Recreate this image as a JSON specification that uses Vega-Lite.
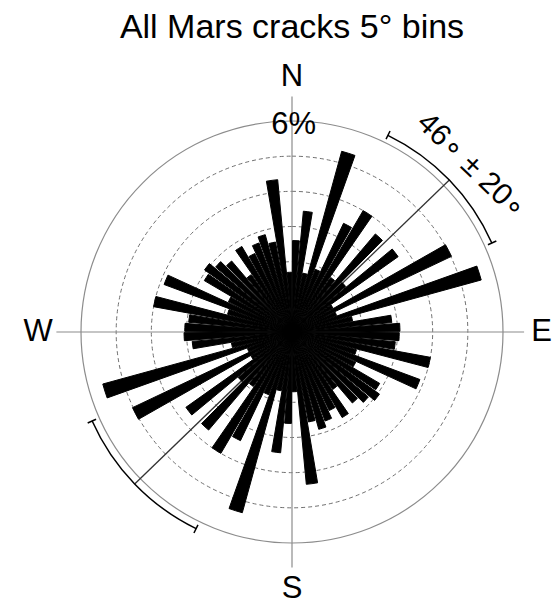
{
  "$schema": "https://vega.github.io/schema/vega-lite/v6.json",
  "width": 422,
  "height": 422,
  "autosize": {"type": "none"},
  "padding": {"left": 81, "top": 121, "right": 50, "bottom": 62},
  "background": "white",
  "config": {"view": {"stroke": null}, "font": "Liberation Sans"},
  "title": {
    "text": "All Mars cracks 5° bins",
    "fontSize": 34,
    "fontWeight": "normal",
    "font": "Liberation Sans",
    "color": "black",
    "anchor": "middle",
    "baseline": "alphabetic",
    "offset": 0,
    "dy": 11
  },
  "datasets": {
    "bins": [
      {"a0": 0, "a1": 5, "pct": 2.6}, {"a0": 5, "a1": 10, "pct": 3.45}, {"a0": 10, "a1": 15, "pct": 1.7},
      {"a0": 15, "a1": 20, "pct": 5.33}, {"a0": 20, "a1": 25, "pct": 1.9}, {"a0": 25, "a1": 30, "pct": 3.42},
      {"a0": 30, "a1": 35, "pct": 4.0}, {"a0": 35, "a1": 40, "pct": 1.9}, {"a0": 40, "a1": 45, "pct": 3.66},
      {"a0": 45, "a1": 50, "pct": 2.0}, {"a0": 50, "a1": 55, "pct": 3.7}, {"a0": 55, "a1": 60, "pct": 1.35},
      {"a0": 60, "a1": 65, "pct": 5.02}, {"a0": 65, "a1": 70, "pct": 1.35}, {"a0": 70, "a1": 75, "pct": 5.58},
      {"a0": 75, "a1": 80, "pct": 1.75}, {"a0": 80, "a1": 85, "pct": 2.85}, {"a0": 85, "a1": 90, "pct": 3.07},
      {"a0": 90, "a1": 95, "pct": 3.05}, {"a0": 95, "a1": 100, "pct": 2.95}, {"a0": 100, "a1": 105, "pct": 4.0},
      {"a0": 105, "a1": 110, "pct": 1.9}, {"a0": 110, "a1": 115, "pct": 3.88}, {"a0": 115, "a1": 120, "pct": 2.0},
      {"a0": 120, "a1": 125, "pct": 2.89}, {"a0": 125, "a1": 130, "pct": 3.05}, {"a0": 130, "a1": 135, "pct": 2.85},
      {"a0": 135, "a1": 140, "pct": 2.65}, {"a0": 140, "a1": 145, "pct": 2.0}, {"a0": 145, "a1": 150, "pct": 2.82},
      {"a0": 150, "a1": 155, "pct": 2.47}, {"a0": 155, "a1": 160, "pct": 2.7}, {"a0": 160, "a1": 165, "pct": 2.87},
      {"a0": 165, "a1": 170, "pct": 2.6}, {"a0": 170, "a1": 175, "pct": 4.35}, {"a0": 175, "a1": 180, "pct": 1.7},
      {"a0": 180, "a1": 185, "pct": 2.6}, {"a0": 185, "a1": 190, "pct": 3.45}, {"a0": 190, "a1": 195, "pct": 1.7},
      {"a0": 195, "a1": 200, "pct": 5.33}, {"a0": 200, "a1": 205, "pct": 1.9}, {"a0": 205, "a1": 210, "pct": 3.42},
      {"a0": 210, "a1": 215, "pct": 4.0}, {"a0": 215, "a1": 220, "pct": 1.9}, {"a0": 220, "a1": 225, "pct": 3.66},
      {"a0": 225, "a1": 230, "pct": 2.0}, {"a0": 230, "a1": 235, "pct": 3.7}, {"a0": 235, "a1": 240, "pct": 1.35},
      {"a0": 240, "a1": 245, "pct": 5.02}, {"a0": 245, "a1": 250, "pct": 1.35}, {"a0": 250, "a1": 255, "pct": 5.58},
      {"a0": 255, "a1": 260, "pct": 1.75}, {"a0": 260, "a1": 265, "pct": 2.85}, {"a0": 265, "a1": 270, "pct": 3.07},
      {"a0": 270, "a1": 275, "pct": 3.05}, {"a0": 275, "a1": 280, "pct": 2.95}, {"a0": 280, "a1": 285, "pct": 4.0},
      {"a0": 285, "a1": 290, "pct": 1.9}, {"a0": 290, "a1": 295, "pct": 3.88}, {"a0": 295, "a1": 300, "pct": 2.0},
      {"a0": 300, "a1": 305, "pct": 2.89}, {"a0": 305, "a1": 310, "pct": 3.05}, {"a0": 310, "a1": 315, "pct": 2.85},
      {"a0": 315, "a1": 320, "pct": 2.65}, {"a0": 320, "a1": 325, "pct": 2.0}, {"a0": 325, "a1": 330, "pct": 2.82},
      {"a0": 330, "a1": 335, "pct": 2.47}, {"a0": 335, "a1": 340, "pct": 2.7}, {"a0": 340, "a1": 345, "pct": 2.87},
      {"a0": 345, "a1": 350, "pct": 2.6}, {"a0": 350, "a1": 355, "pct": 4.35}, {"a0": 355, "a1": 360, "pct": 1.7}
    ],
    "gridRings": [
      {"a0": 0, "a1": 360, "r": 1}, {"a0": 0, "a1": 360, "r": 2}, {"a0": 0, "a1": 360, "r": 3},
      {"a0": 0, "a1": 360, "r": 4}, {"a0": 0, "a1": 360, "r": 5}
    ],
    "outerRing": [{"a0": 0, "a1": 360, "r": 6}],
    "crossLines": [
      {"x": -6.7, "x2": 6.6, "y": 0, "y2": 0},
      {"x": 0, "x2": 0, "y": -6.7, "y2": 6.7}
    ],
    "meanLine": [
      {"x": -4.474, "y": -4.321, "x2": 4.474, "y2": 4.321}
    ],
    "bracketTicks": [
      {"x": 2.674, "y": 5.483, "x2": 2.788, "y2": 5.716},
      {"x": 5.572, "y": 2.481, "x2": 5.81, "y2": 2.587},
      {"x": -2.674, "y": -5.483, "x2": -2.788, "y2": -5.716},
      {"x": -5.572, "y": -2.481, "x2": -5.81, "y2": -2.587}
    ],
    "brackets": [
      {"a0": 26, "a1": 66, "r": 6.22},
      {"a0": 206, "a1": 246, "r": 6.22}
    ],
    "compass": [
      {"t": "N", "x": 0, "y": 7.26},
      {"t": "S", "x": 0, "y": -7.32},
      {"t": "W", "x": -7.22, "y": 0},
      {"t": "E", "x": 7.1, "y": 0},
      {"t": "6%", "x": 0.05, "y": 5.9}
    ],
    "meanLabel": [
      {"t": "46∘ ± 20∘", "x": 5.1, "y": 4.72}
    ]
  },
  "layer": [
    {
      "data": {"name": "gridRings"},
      "mark": {"type": "arc", "filled": false, "stroke": "#707070", "strokeWidth": 1, "strokeDash": [4, 3]},
      "encoding": {
        "theta": {"field": "a0", "type": "quantitative", "stack": null, "scale": {"type": "linear", "domain": [0, 360], "range": [0, 6.283185307179586]}},
        "theta2": {"field": "a1"},
        "radius": {"field": "r", "type": "quantitative", "scale": {"type": "linear", "domain": [0, 6], "range": [0, 211], "zero": true}}
      }
    },
    {
      "data": {"name": "outerRing"},
      "mark": {"type": "arc", "filled": false, "stroke": "#8c8c8c", "strokeWidth": 1.2},
      "encoding": {
        "theta": {"field": "a0", "type": "quantitative", "stack": null, "scale": {"type": "linear", "domain": [0, 360], "range": [0, 6.283185307179586]}},
        "theta2": {"field": "a1"},
        "radius": {"field": "r", "type": "quantitative", "scale": {"type": "linear", "domain": [0, 6], "range": [0, 211], "zero": true}}
      }
    },
    {
      "data": {"name": "crossLines"},
      "mark": {"type": "rule", "stroke": "#8c8c8c", "strokeWidth": 1.2},
      "encoding": {
        "x": {"field": "x", "type": "quantitative", "scale": {"domain": [-6, 6], "nice": false, "zero": false}, "axis": null},
        "x2": {"field": "x2"},
        "y": {"field": "y", "type": "quantitative", "scale": {"domain": [-6, 6], "nice": false, "zero": false}, "axis": null},
        "y2": {"field": "y2"}
      }
    },
    {
      "data": {"name": "meanLine"},
      "mark": {"type": "rule", "stroke": "#333333", "strokeWidth": 1.3},
      "encoding": {
        "x": {"field": "x", "type": "quantitative", "scale": {"domain": [-6, 6], "nice": false, "zero": false}, "axis": null},
        "x2": {"field": "x2"},
        "y": {"field": "y", "type": "quantitative", "scale": {"domain": [-6, 6], "nice": false, "zero": false}, "axis": null},
        "y2": {"field": "y2"}
      }
    },
    {
      "data": {"name": "bins"},
      "mark": {"type": "arc", "color": "black", "stroke": "black", "strokeWidth": 1, "padAngle": 0.013},
      "encoding": {
        "theta": {"field": "a0", "type": "quantitative", "stack": null, "scale": {"type": "linear", "domain": [0, 360], "range": [0, 6.283185307179586]}},
        "theta2": {"field": "a1"},
        "radius": {"field": "pct", "type": "quantitative", "scale": {"type": "linear", "domain": [0, 6], "range": [0, 211], "zero": true}}
      }
    },
    {
      "data": {"name": "bracketTicks"},
      "mark": {"type": "rule", "stroke": "black", "strokeWidth": 1.5},
      "encoding": {
        "x": {"field": "x", "type": "quantitative", "scale": {"domain": [-6, 6], "nice": false, "zero": false}, "axis": null},
        "x2": {"field": "x2"},
        "y": {"field": "y", "type": "quantitative", "scale": {"domain": [-6, 6], "nice": false, "zero": false}, "axis": null},
        "y2": {"field": "y2"}
      }
    },
    {
      "data": {"name": "brackets"},
      "mark": {"type": "arc", "filled": false, "stroke": "black", "strokeWidth": 1.5},
      "encoding": {
        "theta": {"field": "a0", "type": "quantitative", "stack": null, "scale": {"type": "linear", "domain": [0, 360], "range": [0, 6.283185307179586]}},
        "theta2": {"field": "a1"},
        "radius": {"field": "r", "type": "quantitative", "scale": {"type": "linear", "domain": [0, 6], "range": [0, 211], "zero": true}},
        "radius2": {"field": "r"}
      }
    },
    {
      "data": {"name": "compass"},
      "mark": {"type": "text", "fontSize": 31, "font": "Liberation Sans", "color": "black", "align": "center", "baseline": "middle"},
      "encoding": {
        "x": {"field": "x", "type": "quantitative", "scale": {"domain": [-6, 6], "nice": false, "zero": false}, "axis": null},
        "y": {"field": "y", "type": "quantitative", "scale": {"domain": [-6, 6], "nice": false, "zero": false}, "axis": null},
        "text": {"field": "t"}
      }
    },
    {
      "data": {"name": "meanLabel"},
      "mark": {"type": "text", "fontSize": 30, "font": "Liberation Sans", "color": "black", "align": "center", "baseline": "middle", "angle": 44},
      "encoding": {
        "x": {"field": "x", "type": "quantitative", "scale": {"domain": [-6, 6], "nice": false, "zero": false}, "axis": null},
        "y": {"field": "y", "type": "quantitative", "scale": {"domain": [-6, 6], "nice": false, "zero": false}, "axis": null},
        "text": {"field": "t"}
      }
    }
  ]
}
